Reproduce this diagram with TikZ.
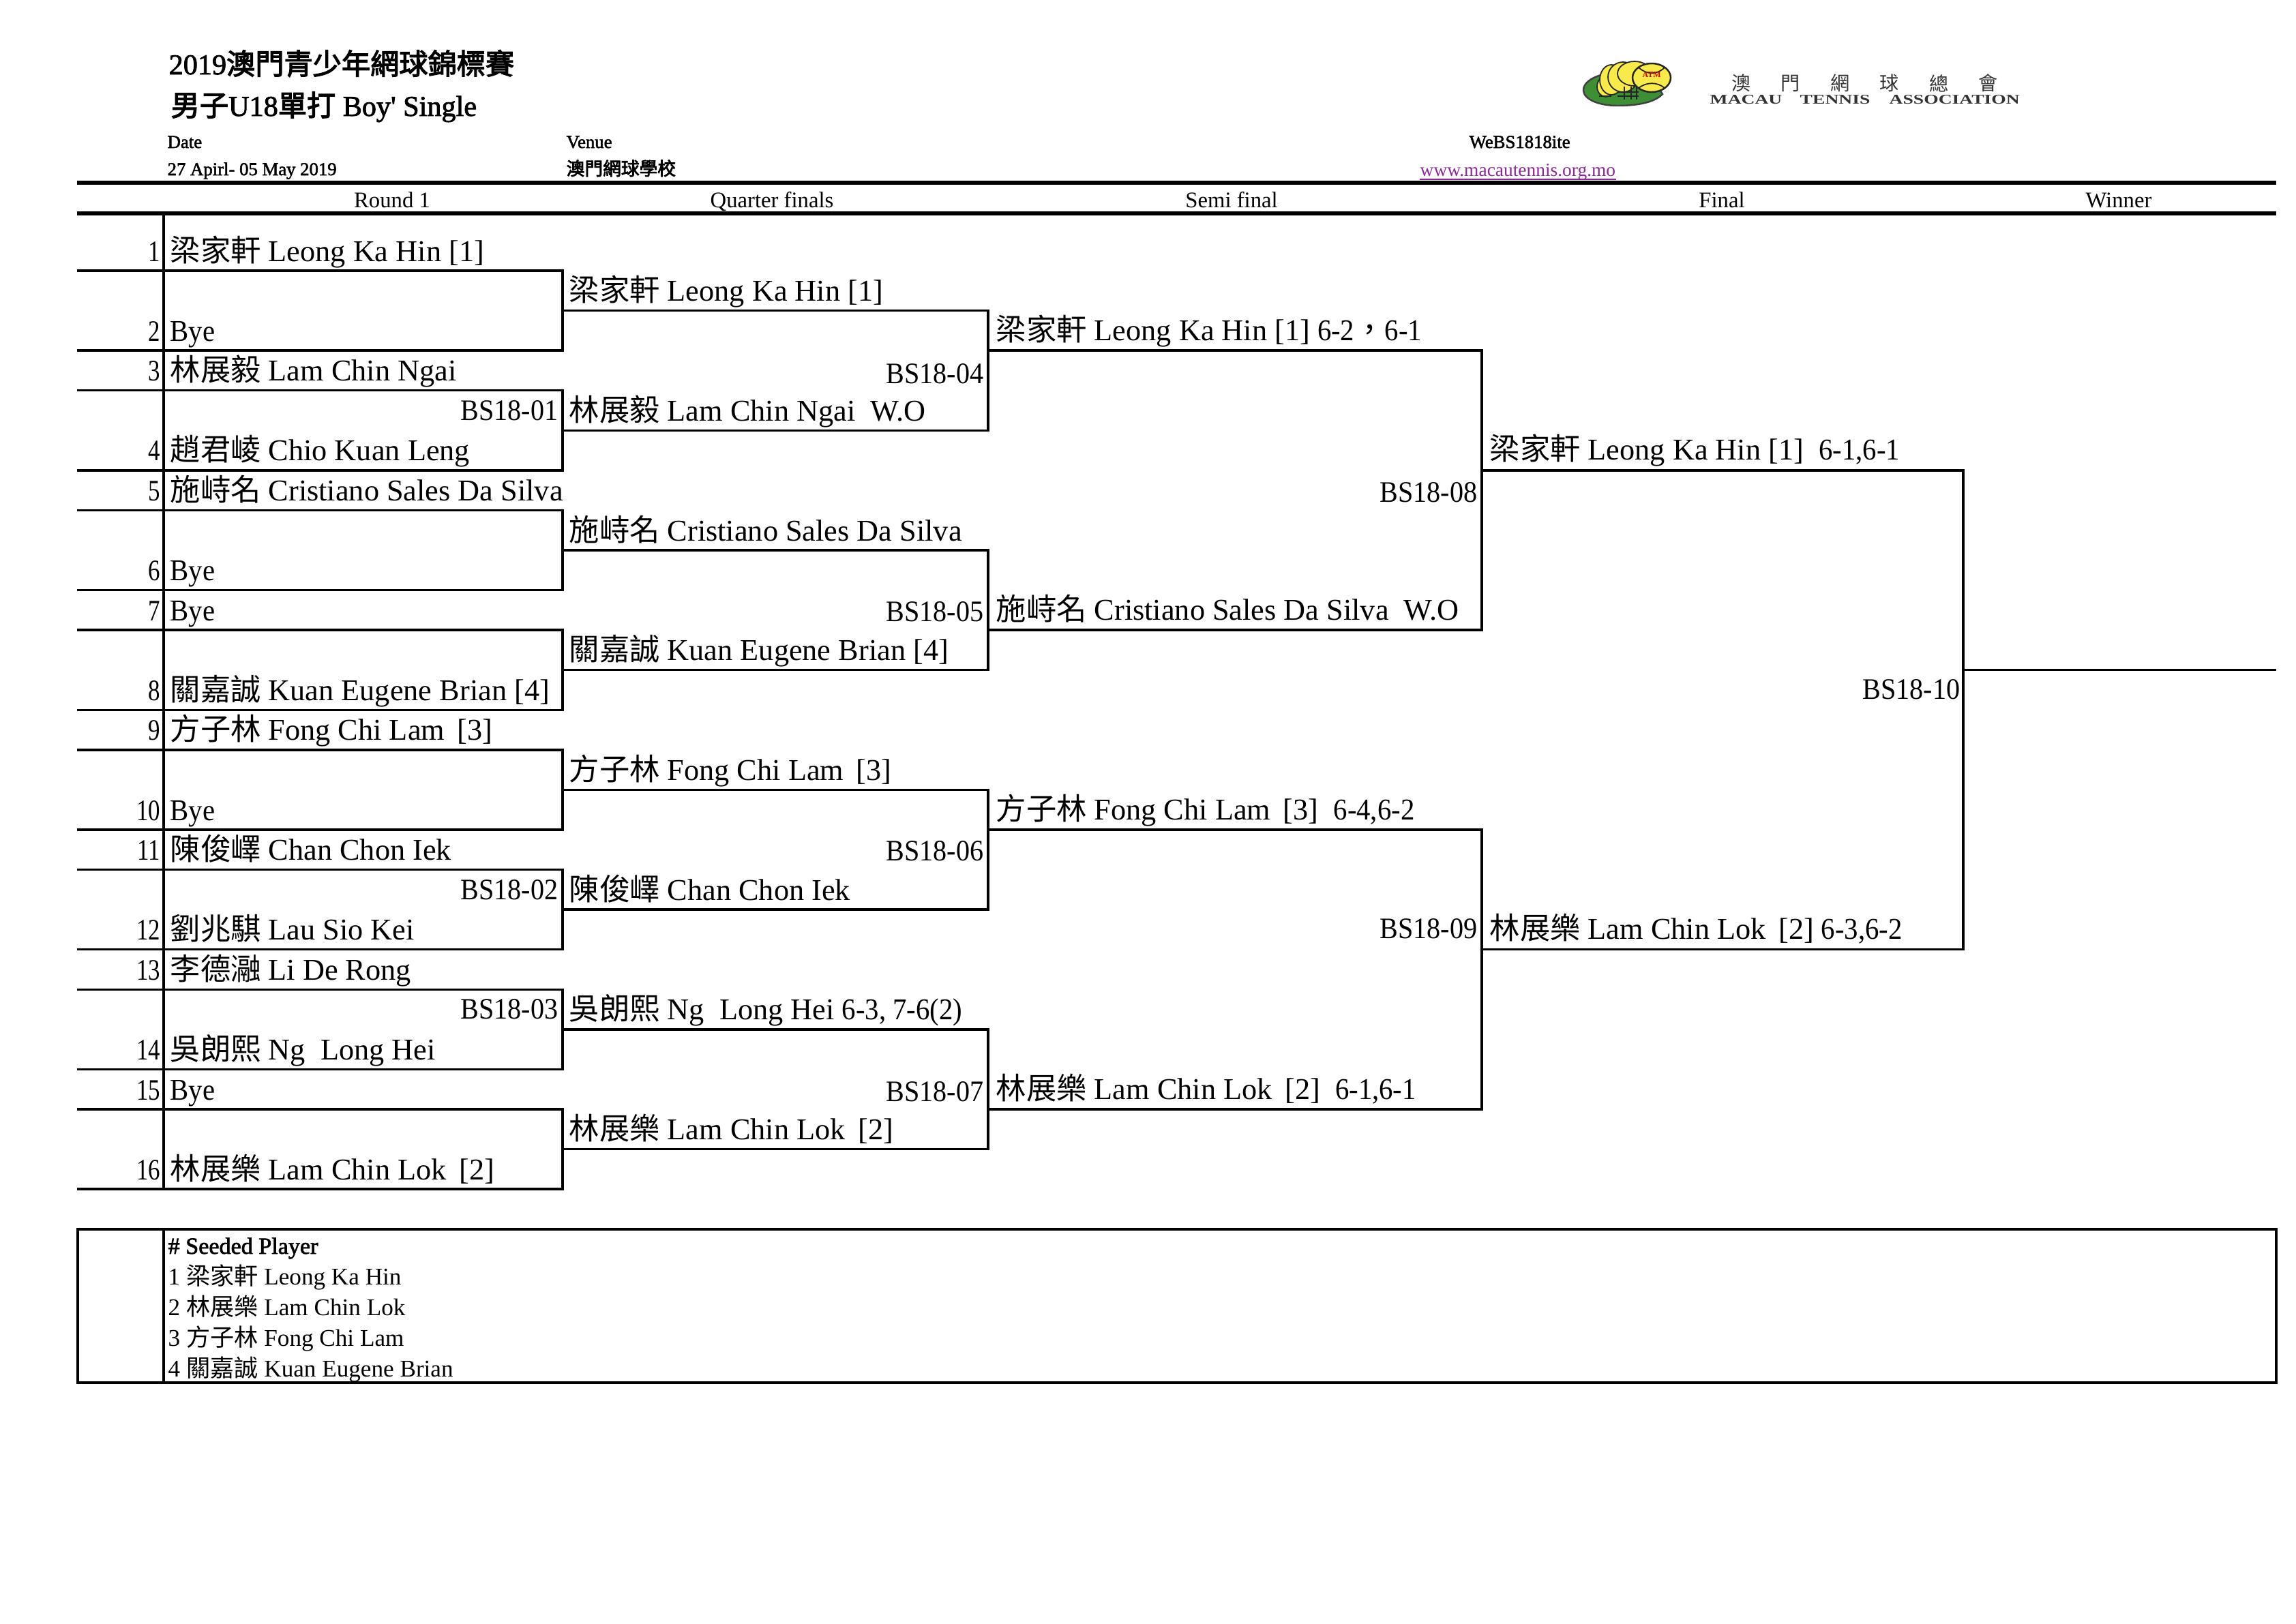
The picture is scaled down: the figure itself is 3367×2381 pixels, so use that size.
\documentclass[tikz,border=0pt]{standalone}
\usepackage{fontspec}
\setmainfont{Liberation Serif}
\newfontfamily\cjk{Noto Sans CJK TC}
\newfontfamily\cjkheavy[FakeBold=3]{Noto Sans CJK TC}
\newfontfamily\serifheavy[FakeBold=2]{Liberation Serif}
\newfontfamily\logofont[FakeStretch=1.4]{Liberation Serif}
\newfontfamily\narrowfont[FakeStretch=0.92]{Liberation Serif}
\newfontfamily\numfont[FakeStretch=0.8]{Liberation Serif}
\usepackage{xcolor}
\usepackage{tikz}
\usetikzlibrary{calc}
\definecolor{logogreen}{HTML}{3E8E35}
\definecolor{logoyellow}{HTML}{F7EA4A}
\definecolor{linkpurple}{HTML}{8A2A96}
\newcommand{\zh}[1]{{\cjk #1}}
\newcommand{\zhh}[1]{{\cjkheavy #1}}
\newcommand{\smalln}[1]{{\narrowfont #1}}
\newcommand{\gapp}{\hspace{0.42em}}

\begin{document}
\begin{tikzpicture}[
  x=0.01cm,y=-0.01cm,
  bracket/.style={line width=1pt},
  headline/.style={line width=1.55pt},
  player/.style={anchor=base west,inner sep=0pt,font=\fontsize{12.6}{15}\selectfont},
  matchid/.style={anchor=base east,inner sep=0pt,font=\narrowfont\fontsize{12.4}{15}\selectfont},
  drawnum/.style={anchor=base east,inner sep=0pt,font=\numfont\fontsize{12.4}{15}\selectfont},
  roundh/.style={anchor=base,inner sep=0pt,font=\fontsize{9.3}{11}\selectfont},
  infoh/.style={anchor=base west,inner sep=0pt,font=\serifheavy\fontsize{7.6}{9}\selectfont},
  titleh/.style={anchor=base west,inner sep=0pt,font=\serifheavy\fontsize{12}{15}\selectfont},
  seedh/.style={anchor=base west,inner sep=0pt,font=\fontsize{10}{12}\selectfont},
  logoh/.style={anchor=base west,inner sep=0pt,font=\logofont\fontsize{5.6}{7}\selectfont\bfseries,text=black!80}
]
  \useasboundingbox (0,0) rectangle (3367,2381);
  % grid of the draw: one row every 58.57 px
  \foreach \k in {0,...,23}{
    \coordinate (a\k) at (113,{397+58.57*\k});
    \coordinate (s\k) at (240,{397+58.57*\k});
    \coordinate (b\k) at (825,{397+58.57*\k});
    \coordinate (c\k) at (1449,{397+58.57*\k});
    \coordinate (d\k) at (2173,{397+58.57*\k});
    \coordinate (e\k) at (2879,{397+58.57*\k});
    \coordinate (w\k) at (3338,{397+58.57*\k});
  }
  % title block
  \node[titleh] (title1) at (247,109) {2019\zhh{澳門青少年網球錦標賽}};
  \node[titleh] (title2) at (250,170) {\zhh{男子}U18\zhh{單打} Boy\char"27\ Single};
  \node[infoh] (datehd) at (245,217) {Date};
  \node[infoh] (dateval) at (245,257) {27 Apirl- 05 May 2019};
  \node[infoh] (venuehd) at (830,217) {Venue};
  \node[infoh] (venueval) at (830,257) {\zhh{澳門網球學校}};
  \node[infoh] (webhd) at (2154,217) {WeBS1818ite};
  \node[anchor=base west,inner sep=0pt,font=\fontsize{7.8}{9}\selectfont,text=linkpurple] (webval) at (2082,258) {www.macautennis.org.mo};
  \draw[linkpurple,line width=0.5pt] ($(webval.base west)+(0,5)$) -- ($(webval.base east)+(0,5)$);
  % logo
  \draw[fill=logogreen,draw=black!75,line width=0.7pt] (2356,108) .. controls (2335,112) and (2321,122) .. (2322,133) .. controls (2323,146) and (2345,155) .. (2372,155) .. controls (2395,155) and (2425,152) .. (2438,138) -- (2420,110) -- cycle;
  \foreach \cx/\cy/\rx/\ry in {2361/133/7/6,2355/127/13/15,2363/117/17/22,2380/113/22/22,2397/108/25/18}{
    \draw[fill=logoyellow,draw=black!85,line width=0.5pt] (\cx,\cy) ellipse [x radius=\rx,y radius=\ry];
  }
  \draw[fill=logoyellow,draw=black!85,line width=0.7pt] (2422,114) ellipse [x radius=28,y radius=21];
  \draw[black!85,line width=0.5pt] (2403,99) .. controls (2415,110) and (2430,110) .. (2441,99);
  \draw[black!85,line width=0.5pt] (2403,129) .. controls (2415,120) and (2430,120) .. (2441,129);
  \node[inner sep=0pt,text=red!80!black,font=\fontsize{3.4}{4}\selectfont\bfseries] (logoatm) at (2422,110) {ATM};
  \draw[black!85,line width=0.5pt] (2345,141) -- (2363,141) (2372,135) -- (2403,135) (2372,141) -- (2403,141) (2382,127) -- (2382,146) (2392,127) -- (2392,146) (2400,127) -- (2400,146);
  \foreach \i/\x/\ch in {1/2554/澳,2/2626/門,3/2699/網,4/2771/球,5/2844/總,6/2916/會}{
    \node[inner sep=0pt,text=black!80,font=\fontsize{8}{9}\selectfont] (logozh\i) at (\x,122) {\zh{\ch}};
  }
  \node[logoh] (logoa) at (2507,152) {MACAU};
  \node[logoh] (logob) at (2639,152) {TENNIS};
  \node[logoh] (logoc) at (2770,152) {ASSOCIATION};
  % round headings
  \coordinate (hdrl) at (113,268);
  \coordinate (hdrr) at (3338,268);
  \coordinate (subl) at (113,313);
  \coordinate (subr) at (3338,313);
  \coordinate (subs) at (240,313);
  \draw[headline] (hdrl) -- (hdrr);
  \draw[headline] (subl) -- (subr);
  \foreach \i/\x/\lbl in {1/575/Round 1,2/1132/Quarter finals,3/1806/Semi final,4/2525/Final,5/3107/Winner}{
    \node[roundh] (round\i) at (\x,304) {\lbl};
  }
  % brackets
  \draw[bracket] (subs) -- (s23);
  \foreach \t/\u in {0/2,3/5,6/8,9/11,12/14,15/17,18/20,21/23}{
    \draw[bracket] (a\t) -- (b\t) -- (b\u) -- (a\u);
  }
  \foreach \t/\u in {1/4,7/10,13/16,19/22}{
    \draw[bracket] (b\t) -- (c\t) -- (c\u) -- (b\u);
  }
  \foreach \t/\u in {2/9,14/21}{
    \draw[bracket] (c\t) -- (d\t) -- (d\u) -- (c\u);
  }
  \draw[bracket] (d5) -- (e5) -- (e17) -- (d17);
  \draw[bracket] (e10) -- (w10);
  % rows: number, row line, name
  \foreach \n/\k/\who in {%
    1/0/{\zh{梁家軒} Leong Ka Hin [1]},
    2/2/{\smalln{Bye}},
    3/3/{\zh{林展毅} Lam Chin Ngai},
    4/5/{\zh{趙君崚} Chio Kuan Leng},
    5/6/{\zh{施峙名} Cristiano Sales Da Silva},
    6/8/{\smalln{Bye}},
    7/9/{\smalln{Bye}},
    8/11/{\zh{關嘉誠} Kuan Eugene Brian [4]},
    9/12/{\zh{方子林} Fong Chi Lam\gapp[3]},
    10/14/{\smalln{Bye}},
    11/15/{\zh{陳俊嶧} Chan Chon Iek},
    12/17/{\zh{劉兆騏} Lau Sio Kei},
    13/18/{\zh{李德瀜} Li De Rong},
    14/20/{\zh{吳朗熙} Ng~~Long Hei},
    15/21/{\smalln{Bye}},
    16/23/{\zh{林展樂} Lam Chin Lok\gapp[2]}%
  }{
    \node[drawnum] (num\n) at ($(s\k)+(-4,-14)$) {\n};
    \node[player] (rone\n) at ($(s\k)+(9,-14)$) {\who};
  }
  % winners of each round
  \foreach \k/\who in {%
    1/{\zh{梁家軒} Leong Ka Hin [1]},
    4/{\zh{林展毅} Lam Chin Ngai~~W.O},
    7/{\zh{施峙名} Cristiano Sales Da Silva},
    10/{\zh{關嘉誠} Kuan Eugene Brian [4]},
    13/{\zh{方子林} Fong Chi Lam\gapp[3]},
    16/{\zh{陳俊嶧} Chan Chon Iek},
    19/{\zh{吳朗熙} Ng~~Long Hei \smalln{6-3, 7-6(2)}},
    22/{\zh{林展樂} Lam Chin Lok\gapp[2]}%
  }{
    \node[player] (quarter\k) at ($(b\k)+(9,-14)$) {\who};
  }
  \foreach \k/\who in {%
    2/{\zh{梁家軒} Leong Ka Hin [1] \smalln{6-2}\zh{，}\smalln{6-1}},
    9/{\zh{施峙名} Cristiano Sales Da Silva~~W.O},
    14/{\zh{方子林} Fong Chi Lam\gapp[3]~~\smalln{6-4,6-2}},
    21/{\zh{林展樂} Lam Chin Lok\gapp[2]~~\smalln{6-1,6-1}}%
  }{
    \node[player] (semi\k) at ($(c\k)+(11,-15)$) {\who};
  }
  \node[player] (final5) at ($(d5)+(11,-15)$) {\zh{梁家軒} Leong Ka Hin [1]~~\smalln{6-1,6-1}};
  \node[player] (final17) at ($(d17)+(11,-15)$) {\zh{林展樂} Lam Chin Lok\gapp[2] \smalln{6-3,6-2}};
  % match numbers: column, row line, number, lift
  \foreach \k/\id/\lift in {4/01/15,16/02/15,19/03/15}{
    \node[matchid] (match\id) at ($(b\k)+(-6,-\lift)$) {BS18-\id};
  }
  \foreach \k/\id/\lift in {3/04/10,9/05/13,15/06/13,21/07/12}{
    \node[matchid] (match\id) at ($(c\k)+(-6,-\lift)$) {BS18-\id};
  }
  \foreach \k/\id/\lift in {6/08/12,17/09/16}{
    \node[matchid] (match\id) at ($(d\k)+(-6,-\lift)$) {BS18-\id};
  }
  \node[matchid] (match10) at ($(e11)+(-4,-16)$) {BS18-10};
  % seeds
  \coordinate (seedtl) at (114,1803);
  \coordinate (seedbr) at (3338,2028);
  \coordinate (seedt) at (240,1803);
  \coordinate (seedb) at (240,2028);
  \draw[bracket] (seedtl) rectangle (seedbr);
  \draw[bracket] (seedt) -- (seedb);
  \node[seedh,font=\serifheavy\fontsize{9.7}{11}\selectfont] (seedhd) at (246,1839) {\# Seeded Player};
  \foreach \n/\y/\who in {%
    1/1884/{\zh{梁家軒} Leong Ka Hin},
    2/1929/{\zh{林展樂} Lam Chin Lok},
    3/1974/{\zh{方子林} Fong Chi Lam},
    4/2019/{\zh{關嘉誠} Kuan Eugene Brian}%
  }{
    \node[seedh] (seed\n) at (246,\y) {\n\ \who};
  }
\end{tikzpicture}
\end{document}
